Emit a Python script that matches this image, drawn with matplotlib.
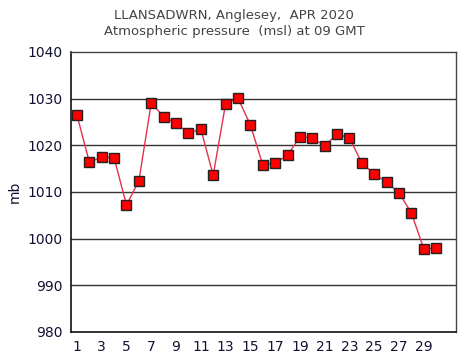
import matplotlib.pyplot as plt

# daily 09 GMT pressure readings, April 2020
days = list(range(1, 31))
pressure = [1026.5, 1016.4, 1017.5, 1017.3, 1007.2, 1012.4, 1029.1, 1026.1, 1024.8, 1022.6,
            1023.5, 1013.6, 1028.9, 1030.1, 1024.4, 1015.8, 1016.2, 1017.9, 1021.8, 1021.6,
            1019.9, 1022.4, 1021.6, 1016.2, 1013.9, 1012.1, 1009.8, 1005.5, 997.8, 998.0]
xticks = list(range(1, 30, 2))
yticks = list(range(980, 1041, 10))

fig = plt.figure(figsize=(4.68, 3.62), dpi=100)
ax = fig.add_axes([71 / 468, 1 - 332 / 362, (456 - 71) / 468, (332 - 52) / 362])

for y in yticks[1:-1]:
    ax.axhline(y, color='#333333', linewidth=1.0, zorder=1)

ax.plot(days, pressure, color='#e8304a', linewidth=1.0, zorder=2)
ax.plot(days, pressure, linestyle='none', marker='s', markersize=7,
        markerfacecolor='#ff0000', markeredgecolor='#222222', markeredgewidth=1.0, zorder=3)

ax.set_xlim(0.52, 31.6)
ax.set_ylim(980, 1040)
ax.set_xticks(xticks)
ax.set_yticks(yticks)
ax.tick_params(length=0, labelsize=10, colors='#111133', pad=6)
ax.set_ylabel('mb', fontsize=10, color='#111133', labelpad=4)

for side in ['left', 'bottom']:
    ax.spines[side].set_color('#111111')
    ax.spines[side].set_linewidth(1.2)
for side in ['right', 'top']:
    ax.spines[side].set_color('#444444')
    ax.spines[side].set_linewidth(1.0)

fig.text(0.5, 1 - 16 / 362, 'LLANSADWRN, Anglesey,  APR 2020', ha='center', va='center',
         fontsize=9.5, color='#444444')
fig.text(0.5, 1 - 31 / 362, 'Atmospheric pressure  (msl) at 09 GMT', ha='center', va='center',
         fontsize=9.5, color='#444444')

fig.savefig('out.png', dpi=100)
